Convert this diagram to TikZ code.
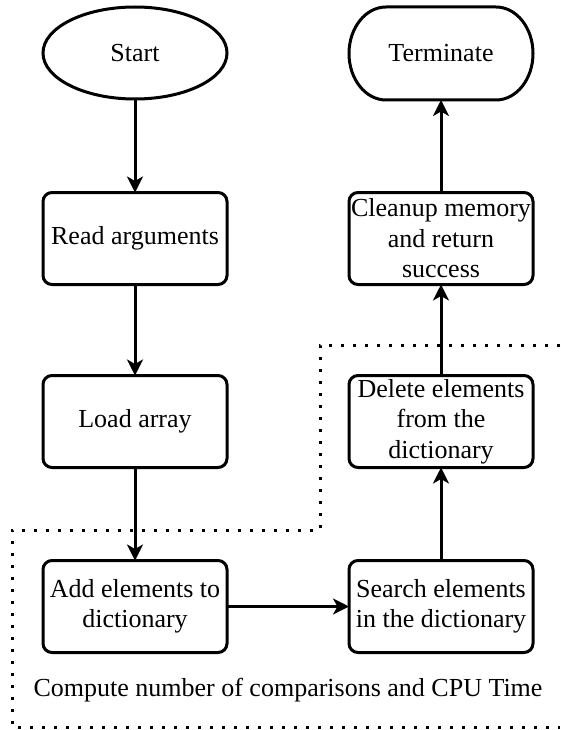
\documentclass[tikz,border=0pt]{standalone}
\usepackage{fontspec}
\setmainfont{Liberation Serif}
\usetikzlibrary{shapes.geometric,arrows.meta}
\begin{document}
\begin{tikzpicture}[x=1pt,y=-1pt,
  every node/.style={font=\fontsize{26pt}{30.5pt}\selectfont, inner sep=0pt, outer sep=0pt},
  proc/.style={draw, line width=3pt, rectangle, rounded corners=9pt, minimum width=184pt, minimum height=92pt, align=center},
  startshape/.style={draw, line width=3pt, ellipse, minimum width=184pt, minimum height=92pt},
  termshape/.style={rectangle, minimum width=184pt, minimum height=93pt},
  flow/.style={line width=3pt, -{Stealth[length=16pt,width=16pt,inset=4.5pt]}},
  region/.style={line width=3pt, dash pattern=on 3pt off 9pt}
]
\useasboundingbox (0,0) rectangle (560,730);
\draw[region] (560,345) -- (320,345) -- (320,530) -- (12,530) -- (12,727) -- (560,727);

\node[startshape] (start) at (135,53) {Start};
\node[proc] (read) at (135,238.5) {Read arguments};
\node[proc] (load) at (135,421.5) {Load array};
\node[proc] (add) at (135,606.5) {Add elements to\\dictionary};
\node[proc] (search) at (441,606.5) {Search elements\\in the dictionary};
\node[proc] (delete) at (441,421.5) {Delete elements\\from the\\dictionary};
\node[proc] (cleanup) at (441,238.5) {Cleanup memory\\and return\\success};
\node[termshape] (term) at (441,53.5) {Terminate};
\draw[line width=3pt] (386,7) -- (496,7)
  arc[start angle=-90, end angle=90, x radius=37, y radius=46.5]
  -- (386,100)
  arc[start angle=90, end angle=270, x radius=37, y radius=46.5] -- cycle;
\node (compute) at (288,690) {Compute number of comparisons and CPU Time};

\draw[flow] (start) -- (read);
\draw[flow] (read) -- (load);
\draw[flow] (load) -- (add);
\draw[flow] (add) -- (search);
\draw[flow] (search) -- (delete);
\draw[flow] (delete) -- (cleanup);
\draw[flow] (cleanup) -- (term);
\end{tikzpicture}
\end{document}
